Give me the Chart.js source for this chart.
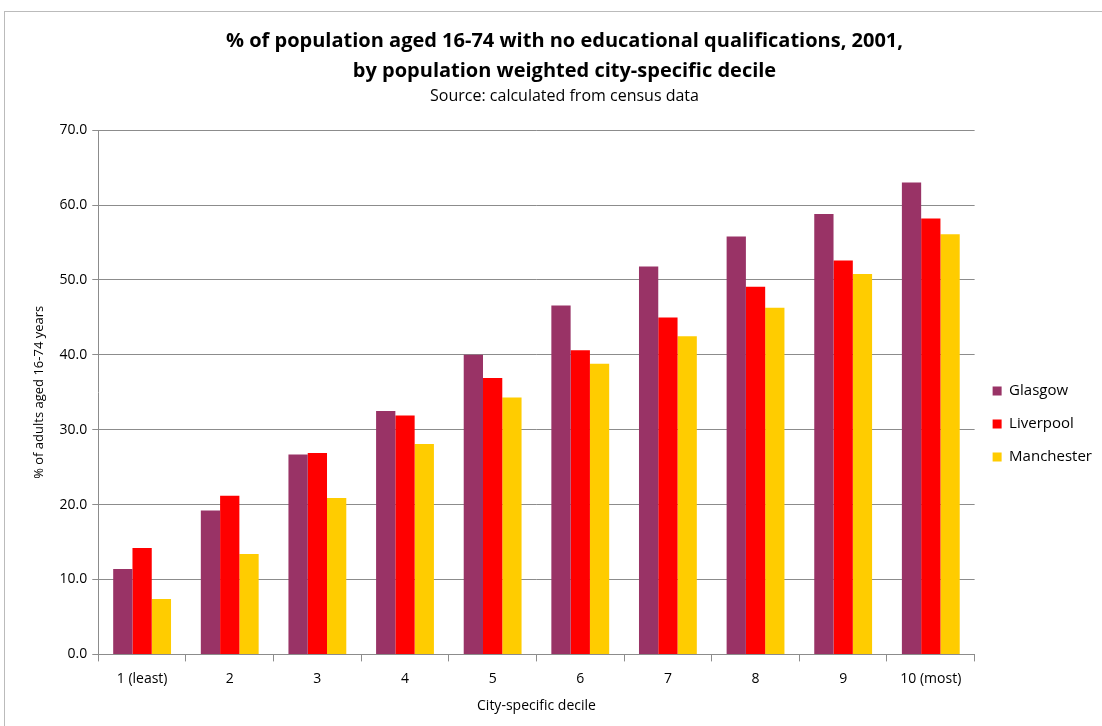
<!DOCTYPE html>
<html>
<head>
<meta charset="utf-8">
<script src="https://cdn.jsdelivr.net/npm/chart.js@4"></script>
<style>
  body { margin: 0; background: #fff; }
  #frame { position: absolute; left: 4px; top: 11px; width: 1110px; height: 730px; border: 1px solid #bbb; }
  #wrap { position: absolute; left: 0; top: 0; width: 1102px; height: 726px; }
</style>
</head>
<body>
<div id="frame"></div>
<div id="wrap"><canvas id="chart"></canvas></div>
<script>
/* ===================== DATA ===================== */
const deciles = ["1 (least)", "2", "3", "4", "5", "6", "7", "8", "9", "10 (most)"];
const glasgow = [11.4, 19.2, 26.7, 32.5, 40.0, 46.6, 51.8, 55.8, 58.8, 63.0];
const liverpool = [14.2, 21.2, 26.9, 31.9, 36.9, 40.6, 45.0, 49.1, 52.6, 58.2];
const manchester = [7.4, 13.4, 20.9, 28.1, 34.3, 38.8, 42.5, 46.3, 50.8, 56.1];

const FONT = "'Liberation Sans Narrow', 'Open Sans', sans-serif";
const GRID = "#8c8c8c";

/* ===================== CHART ===================== */
new Chart(document.getElementById("chart"), {
  type: "bar",
  data: {
    labels: deciles,
    datasets: [
      { label: "Glasgow", data: glasgow, backgroundColor: "#993366" },
      { label: "Liverpool", data: liverpool, backgroundColor: "#ff0000" },
      { label: "Manchester", data: manchester, backgroundColor: "#ffcc00" }
    ]
  },
  options: {
    responsive: true,
    maintainAspectRatio: false,
    animation: false,
    categoryPercentage: 0.66,
    barPercentage: 1.0,
    layout: { padding: { left: 27, right: 0, top: 26, bottom: 8 } },
    plugins: {
      title: {
        display: true,
        text: ["% of population aged 16-74 with no educational qualifications, 2001,", "by population weighted city-specific decile"],
        color: "#000",
        font: { family: FONT, size: 20, weight: "bold", lineHeight: 1.5 },
        padding: { top: 0, bottom: 0 }
      },
      subtitle: {
        display: true,
        text: "Source: calculated from census data",
        color: "#000",
        font: { family: FONT, size: 16 },
        padding: { top: 1, bottom: 24 }
      },
      legend: {
        position: "right",
        title: { display: true, text: " ", font: { size: 10 }, padding: { top: 46, bottom: 46 } },
        labels: {
          color: "#000",
          font: { family: FONT, size: 15 },
          boxWidth: 9, boxHeight: 9,
          padding: 18
        }
      },
      tooltip: { enabled: false }
    },
    scales: {
      x: {
        grid: { drawOnChartArea: false, drawTicks: true, tickLength: 7, color: GRID, offset: true },
        border: { color: GRID },
        ticks: { color: "#000", font: { family: FONT, size: 14 }, padding: 9 },
        title: { display: true, text: "City-specific decile", color: "#000", font: { family: FONT, size: 14 }, padding: { top: 1 } }
      },
      y: {
        min: 0, max: 70,
        grid: { color: GRID, tickLength: 6 },
        border: { color: GRID },
        ticks: { stepSize: 10, color: "#000", font: { family: FONT, size: 14 }, padding: 5,
          callback: v => v.toFixed(1) },
        title: { display: true, text: "% of adults aged 16-74 years", color: "#000", font: { family: FONT, size: 13 }, padding: { bottom: 8 } }
      }
    }
  }
});
</script>
</body>
</html>
